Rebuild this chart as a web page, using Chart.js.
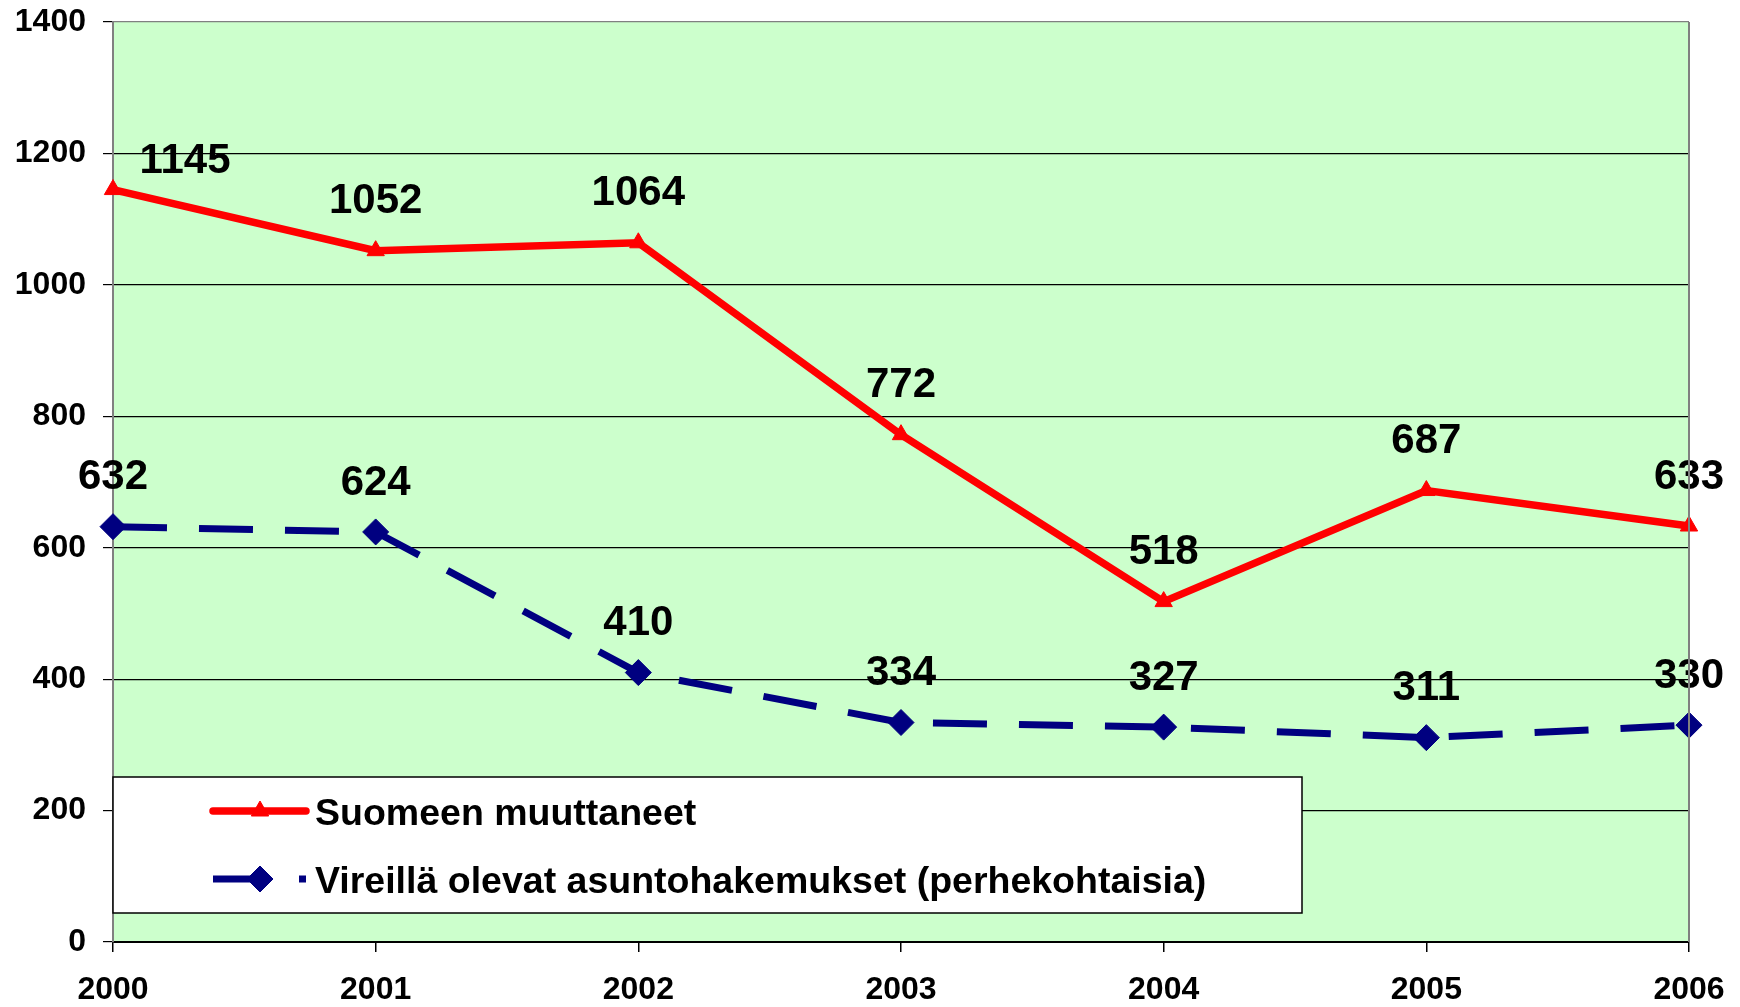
<!DOCTYPE html>
<html><head><meta charset="utf-8">
<script src="https://cdn.jsdelivr.net/npm/chart.js@4"></script>
<style>html,body{margin:0;padding:0;background:#fff;overflow:hidden}#wrap{width:1740px;height:1007px;position:relative}</style>
</head><body><div id="wrap"><canvas id="c" width="1740" height="1007"></canvas></div>
<script>
const years = ['2000','2001','2002','2003','2004','2005','2006'];
const muuttaneet = [1145, 1052, 1064, 772, 518, 687, 633];
const hakemukset = [632, 624, 410, 334, 327, 311, 330];
const seriesNames = ['Suomeen muuttaneet', 'Vireillä olevat asuntohakemukset (perhekohtaisia)'];
const yMin = 0, yMax = 1400, yStep = 200;

const FONT = '"Liberation Sans", Arial, sans-serif';

const bgPlugin = {
  id: 'bg',
  beforeDraw(chart) {
    const {ctx, chartArea: a} = chart;
    ctx.save();
    ctx.fillStyle = '#CCFFCC';
    ctx.fillRect(a.left, a.top, a.right - a.left, a.bottom - a.top);
    ctx.restore();
  },
  afterDraw(chart) {
    const {ctx, chartArea: a} = chart;
    ctx.save();
    ctx.strokeStyle = '#808080';
    ctx.lineWidth = 2;
    ctx.beginPath();
    ctx.moveTo(a.right, a.top);
    ctx.lineTo(a.right, a.bottom);
    ctx.stroke();
    ctx.restore();
  }
};

const legendPlugin = {
  id: 'boxLegend',
  afterDatasetsDraw(chart) {
    const {ctx, chartArea: a} = chart;
    const x0 = a.left, y0 = 777, w = 1189, h = 136;
    ctx.save();
    ctx.fillStyle = '#FFFFFF';
    ctx.fillRect(x0, y0, w, h);
    ctx.strokeStyle = '#000000';
    ctx.lineWidth = 1.5;
    ctx.strokeRect(x0, y0, w, h);
    const rows = [811, 879];
    chart.data.datasets.forEach((ds, i) => {
      const y = rows[i];
      ctx.save();
      ctx.strokeStyle = ds.borderColor;
      ctx.lineWidth = ds.borderWidth;
      ctx.lineCap = i === 0 ? 'round' : 'butt';
      ctx.setLineDash(ds.borderDash || []);
      ctx.beginPath();
      ctx.moveTo(213, y);
      ctx.lineTo(306, y);
      ctx.stroke();
      ctx.restore();
      ctx.save();
      ctx.fillStyle = ds.pointBackgroundColor;
      ctx.strokeStyle = ds.pointBorderColor;
      ctx.lineWidth = 1;
      Chart.helpers.drawPoint(ctx, {
        pointStyle: ds.pointStyle,
        radius: ds.pointRadius,
        borderWidth: 1,
        rotation: 0
      }, 260, y);
      ctx.restore();
      ctx.fillStyle = '#000';
      ctx.font = 'bold 37.5px ' + FONT;
      ctx.textBaseline = 'middle';
      ctx.textAlign = 'left';
      ctx.fillText(ds.label, 315, y + 4);
    });
    ctx.restore();
  }
};

const labelPlugin = {
  id: 'valueLabels',
  afterDatasetsDraw(chart, args, opts) {
    const {ctx} = chart;
    ctx.save();
    ctx.font = 'bold 42px ' + FONT;
    ctx.fillStyle = '#000';
    ctx.textAlign = 'center';
    ctx.textBaseline = 'middle';
    chart.data.datasets.forEach((ds, di) => {
      const meta = chart.getDatasetMeta(di);
      meta.data.forEach((pt, i) => {
        let dx = 0, dy = -49;
        const key = di + ':' + i;
        if (opts.shift && opts.shift[key]) { dx = opts.shift[key][0]; dy = opts.shift[key][1]; }
        ctx.fillText(String(ds.data[i]), pt.x + dx, pt.y + dy);
      });
    });
    ctx.restore();
  }
};

new Chart(document.getElementById('c'), {
  type: 'line',
  data: {
    labels: years,
    datasets: [
      {
        label: seriesNames[0],
        data: muuttaneet,
        borderColor: '#FF0000',
        backgroundColor: '#FF0000',
        borderWidth: 7.5,
        pointStyle: 'triangle',
        pointRadius: 10,
        pointHoverRadius: 10,
        pointBackgroundColor: '#FF0000',
        pointBorderColor: '#FF0000',
        pointBorderWidth: 1,
        tension: 0,
        clip: false
      },
      {
        label: seriesNames[1],
        data: hakemukset,
        borderColor: '#000080',
        backgroundColor: '#000080',
        borderWidth: 7,
        borderDash: [54, 32],
        pointStyle: 'rectRot',
        pointRadius: 13,
        pointHoverRadius: 13,
        pointBackgroundColor: '#000080',
        pointBorderColor: '#000080',
        pointBorderWidth: 1,
        tension: 0,
        clip: false
      }
    ]
  },
  options: {
    responsive: false,
    animation: false,
    devicePixelRatio: 1,
    layout: { padding: { left: 0, top: 22, right: 51, bottom: 0 } },
    plugins: {
      legend: { display: false },
      tooltip: { enabled: false },
      valueLabels: { shift: { '0:0': [72, -28] } }
    },
    scales: {
      x: {
        type: 'category',
        offset: false,
        afterFit(s) { s.height = 65; s.paddingLeft = 0; s.paddingRight = 0; },
        grid: { display: true, drawOnChartArea: false, drawTicks: true, tickLength: 10, tickColor: '#000', lineWidth: 1.5 },
        border: { display: true, color: '#000', width: 2 },
        ticks: { color: '#000', font: { family: FONT, size: 32, weight: 'bold' }, padding: 19, maxRotation: 0, autoSkip: false }
      },
      y: {
        min: yMin, max: yMax,
        afterFit(s) { s.width = 113; s.paddingTop = 0; s.paddingBottom = 0; },
        grid: {
          color: (c) => c.tick && c.tick.value === yMax ? '#808080' : '#000000',
          lineWidth: 1.2,
          drawTicks: true,
          tickLength: 10,
          tickColor: '#000'
        },
        border: { display: true, color: '#808080', width: 2 },
        ticks: {
          stepSize: yStep, color: '#000',
          font: { family: FONT, size: 32, weight: 'bold' }, padding: 17,
          callback: (v) => String(v)
        }
      }
    }
  },
  plugins: [bgPlugin, legendPlugin, labelPlugin]
});
</script>
</body></html>
